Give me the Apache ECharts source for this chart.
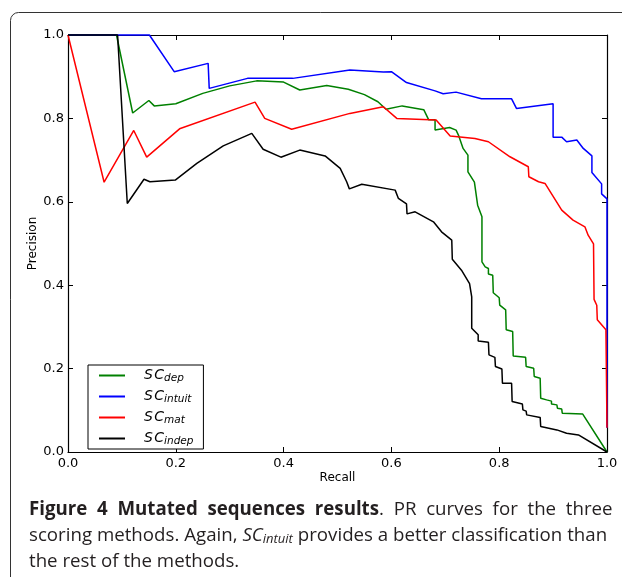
<!DOCTYPE html>
<html>
<head>
<meta charset="utf-8">
<script src="https://cdn.jsdelivr.net/npm/echarts@6/dist/echarts.min.js"></script>
<style>
  html, body { margin: 0; padding: 0; background: #fff; }
  #main { width: 622px; height: 577px; }
</style>
</head>
<body>
<div id="main"></div>
<script>
// PR curves, [recall, precision]
const scDep = [
  [0, 1], [0.09, 1], [0.12, 0.813], [0.15, 0.843], [0.16, 0.830], [0.20, 0.835], [0.25, 0.860],
  [0.30, 0.878], [0.35, 0.890], [0.40, 0.887], [0.43, 0.868], [0.48, 0.879], [0.52, 0.870],
  [0.55, 0.857], [0.575, 0.840], [0.59, 0.822], [0.62, 0.830], [0.66, 0.821], [0.669, 0.797],
  [0.681, 0.797], [0.681, 0.772], [0.708, 0.778], [0.72, 0.772], [0.725, 0.758], [0.733, 0.728],
  [0.742, 0.712], [0.742, 0.672], [0.754, 0.647], [0.76, 0.592], [0.768, 0.564], [0.768, 0.456],
  [0.774, 0.444], [0.78, 0.440], [0.78, 0.427], [0.788, 0.424], [0.789, 0.382], [0.80, 0.370],
  [0.801, 0.352], [0.812, 0.341], [0.813, 0.293], [0.825, 0.289], [0.826, 0.230], [0.849, 0.227],
  [0.850, 0.205], [0.864, 0.201], [0.865, 0.181], [0.876, 0.177], [0.877, 0.129], [0.888, 0.125],
  [0.897, 0.122], [0.897, 0.115], [0.907, 0.113], [0.908, 0.105], [0.916, 0.103], [0.917, 0.093],
  [0.955, 0.091], [1.0, 0.0]
];
const scIntuit = [
  [0, 1], [0.151, 1], [0.197, 0.912], [0.260, 0.932], [0.262, 0.872], [0.333, 0.896], [0.417, 0.896],
  [0.523, 0.916], [0.585, 0.911], [0.600, 0.912], [0.628, 0.886], [0.681, 0.866], [0.696, 0.859],
  [0.720, 0.863], [0.767, 0.847], [0.823, 0.847], [0.832, 0.824], [0.900, 0.835], [0.900, 0.755],
  [0.916, 0.755], [0.925, 0.744], [0.944, 0.748], [0.956, 0.728], [0.972, 0.710], [0.972, 0.670],
  [0.990, 0.643], [0.990, 0.619], [1.0, 0.607], [1.0, 0.058]
];
const scMat = [
  [0, 1], [0.067, 0.647], [0.122, 0.771], [0.146, 0.707], [0.207, 0.775], [0.347, 0.839],
  [0.365, 0.800], [0.415, 0.774], [0.523, 0.812], [0.585, 0.828], [0.610, 0.800], [0.683, 0.796],
  [0.709, 0.758], [0.755, 0.752], [0.780, 0.744], [0.820, 0.708], [0.854, 0.684], [0.855, 0.660],
  [0.873, 0.648], [0.885, 0.644], [0.916, 0.580], [0.937, 0.556], [0.959, 0.540], [0.965, 0.520],
  [0.975, 0.499], [0.976, 0.366], [0.981, 0.352], [0.982, 0.317], [0.998, 0.293], [1.0, 0.058]
];
const scIndep = [
  [0, 1], [0.092, 1], [0.110, 0.596], [0.141, 0.654], [0.152, 0.648], [0.199, 0.652], [0.239, 0.692],
  [0.288, 0.734], [0.341, 0.764], [0.362, 0.726], [0.395, 0.707], [0.430, 0.724], [0.477, 0.710],
  [0.505, 0.680], [0.517, 0.648], [0.522, 0.631], [0.545, 0.642], [0.607, 0.628], [0.613, 0.608],
  [0.628, 0.595], [0.629, 0.571], [0.644, 0.576], [0.678, 0.552], [0.693, 0.528], [0.712, 0.508],
  [0.713, 0.462], [0.730, 0.436], [0.745, 0.404], [0.749, 0.372], [0.749, 0.297], [0.761, 0.281],
  [0.761, 0.266], [0.780, 0.263], [0.781, 0.233], [0.792, 0.227], [0.793, 0.205], [0.805, 0.199],
  [0.806, 0.165], [0.823, 0.165], [0.824, 0.121], [0.843, 0.115], [0.844, 0.101], [0.850, 0.098],
  [0.851, 0.089], [0.876, 0.083], [0.877, 0.061], [0.907, 0.053], [0.925, 0.045], [0.947, 0.041],
  [1.0, 0.0]
];
const seriesNames = ['dep', 'intuit', 'mat', 'indep'];
const seriesColors = ['#008000', '#0000ff', '#ff0000', '#000000'];
const seriesData = [scDep, scIntuit, scMat, scIndep];

const myChart = echarts.init(document.getElementById('main'));

const axisFont = { fontFamily: 'DejaVu Sans', fontSize: 13, color: '#000' };
const spine = { show: true, onZero: false, lineStyle: { color: '#000', width: 1.2 } };
const ticksIn = { show: true, inside: true, length: 5, lineStyle: { color: '#000' } };
const capFont = 'Open Sans';
const capSize = 18.7;

let seriesArr = [];
seriesNames.forEach((item, index) => {
  seriesArr.push({
    name: item,
    type: 'line',
    xAxisIndex: 0,
    yAxisIndex: 0,
    showSymbol: false,
    symbol: 'none',
    clip: false,
    animation: false,
    lineStyle: { color: seriesColors[index], width: 1.5 },
    itemStyle: { color: seriesColors[index] },
    data: seriesData[index]
  });
});

const option = {
  backgroundColor: '#fff',
  animation: false,
  grid: { left: 68, right: 15, top: 35, bottom: 125, containLabel: false },
  legend: {
    orient: 'vertical',
    left: 88,
    top: 365,
    data: seriesNames,
    icon: 'rect',
    itemWidth: 26,
    itemHeight: 2,
    itemGap: 4,
    padding: [2, 10, 2, 11],
    borderColor: '#000',
    borderWidth: 1,
    borderRadius: 0,
    backgroundColor: '#fff',
    formatter: name => '{m|S\u200aC}{s|' + name + '}',
    textStyle: {
      rich: {
        m: { fontFamily: 'DejaVu Sans', fontStyle: 'italic', fontSize: 14, color: '#000', padding: [0, 0, 0, 14], lineHeight: 14 },
        s: { fontFamily: 'DejaVu Sans', fontStyle: 'italic', fontSize: 10.5, color: '#000', padding: [6, 0, 0, 0], lineHeight: 14 }
      }
    }
  },
  xAxis: [
    {
      type: 'value', position: 'bottom', min: 0, max: 1, interval: 0.2,
      name: 'Recall', nameLocation: 'middle', nameGap: 20, nameMoveOverlap: false,
      nameTextStyle: { fontFamily: 'DejaVu Sans', fontSize: 12, color: '#000' },
      axisLine: spine, axisTick: ticksIn, splitLine: { show: false },
      axisLabel: Object.assign({ margin: 5, formatter: v => v.toFixed(1) }, axisFont)
    },
    {
      type: 'value', position: 'top', min: 0, max: 1, interval: 0.2,
      axisLine: spine, axisTick: ticksIn, splitLine: { show: false },
      axisLabel: { show: false }
    }
  ],
  yAxis: [
    {
      type: 'value', position: 'left', min: 0, max: 1, interval: 0.2,
      name: 'Precision', nameLocation: 'middle', nameGap: 29, nameRotate: 90, nameMoveOverlap: false,
      nameTextStyle: { fontFamily: 'DejaVu Sans', fontSize: 12, color: '#000' },
      axisLine: spine, axisTick: ticksIn, splitLine: { show: false },
      axisLabel: Object.assign({ margin: 4, formatter: v => v.toFixed(1) }, axisFont)
    },
    {
      type: 'value', position: 'right', min: 0, max: 1, interval: 0.2,
      axisLine: spine, axisTick: ticksIn, splitLine: { show: false },
      axisLabel: { show: false }
    }
  ],
  graphic: [
    {
      type: 'rect', silent: true, z: -1,
      shape: { x: 10.5, y: 12.5, width: 700, height: 700, r: 8 },
      style: { fill: 'none', stroke: '#333', lineWidth: 1 }
    },
    {
      type: 'text', left: 29, top: 500,
      style: {
        text: '{b|Figure  4  Mutated  sequences  results}{r|.  PR  curves  for  the  three}',
        rich: {
          b: { fontFamily: capFont, fontWeight: 'bold', fontSize: capSize, fill: '#231f20' },
          r: { fontFamily: capFont, fontSize: capSize, fill: '#231f20' }
        }
      }
    },
    {
      type: 'text', left: 29, top: 526,
      style: {
        text: '{r|scoring methods. Again, }{i|SC}{s|intuit}{r| provides a better classification than}',
        rich: {
          r: { fontFamily: capFont, fontSize: capSize, fill: '#231f20' },
          i: { fontFamily: capFont, fontStyle: 'italic', fontSize: capSize, fill: '#231f20' },
          s: { fontFamily: capFont, fontStyle: 'italic', fontSize: 13, fill: '#231f20', padding: [7, 0, 0, 0] }
        }
      }
    },
    {
      type: 'text', left: 29, top: 552,
      style: {
        text: 'the rest of the methods.',
        fontFamily: capFont, fontSize: capSize, fill: '#231f20'
      }
    }
  ],
  series: [...seriesArr]
};
option && myChart.setOption(option);
</script>
</body>
</html>
